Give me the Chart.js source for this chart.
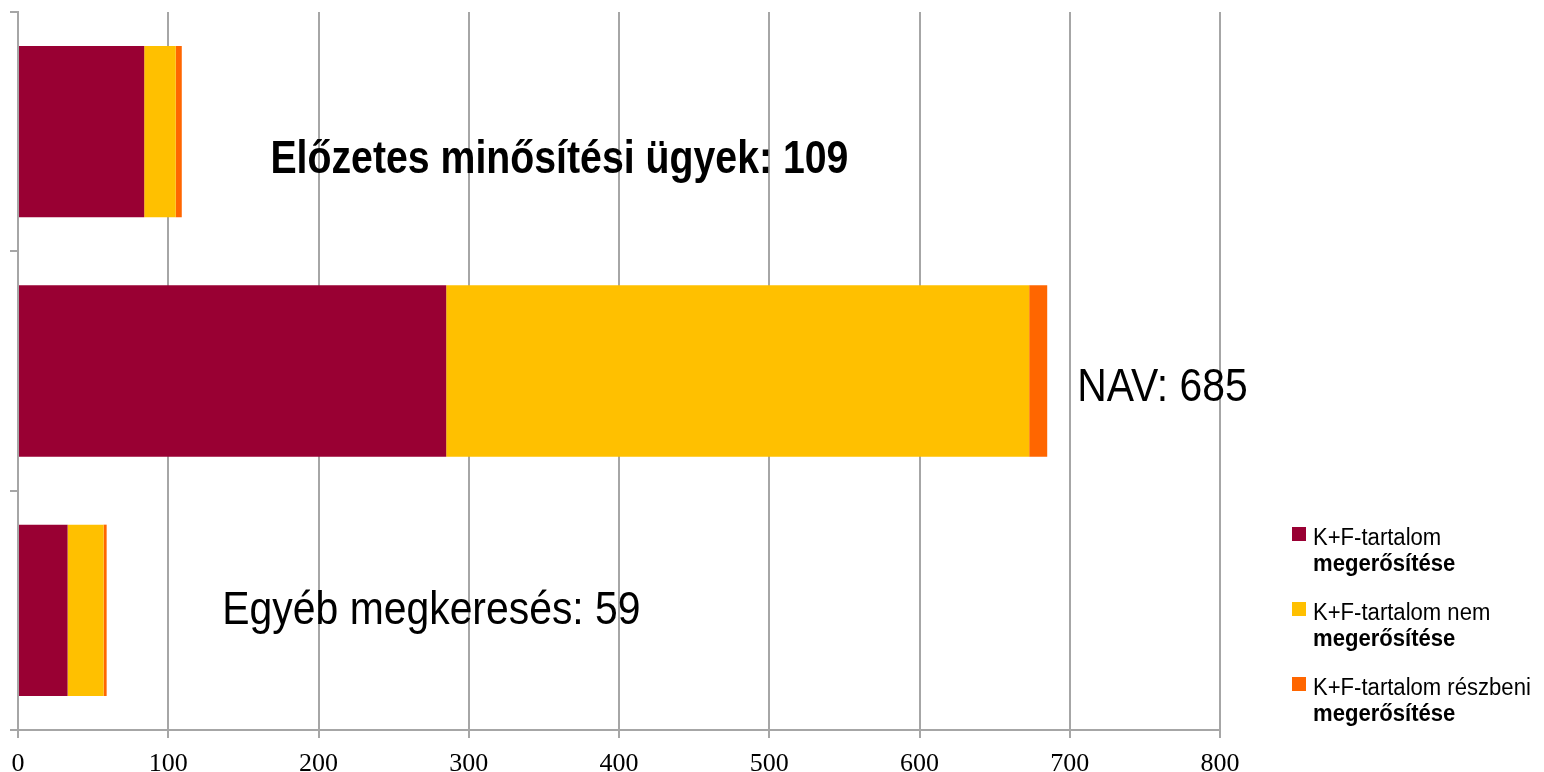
<!DOCTYPE html>
<html>
<head>
<meta charset="utf-8">
<script src="https://cdn.jsdelivr.net/npm/chart.js@4"></script>
<style>
  html, body { margin: 0; padding: 0; background: #fff; }
</style>
</head>
<body>
<canvas id="kfChart" width="1544" height="772"></canvas>
<script>
const categories = ["Előzetes minősítési ügyek", "NAV", "Egyéb megkeresés"];
const confirmed = [84, 285, 33];
const notConfirmed = [21, 388, 24];
const partlyConfirmed = [4, 12, 2];
const xTicks = [0, 100, 200, 300, 400, 500, 600, 700, 800];
const seriesNames = [
  ["K+F-tartalom", "megerősítése"],
  ["K+F-tartalom nem", "megerősítése"],
  ["K+F-tartalom részbeni", "megerősítése"]
];

const gridGray = "#a6a6a6";
const sans = '"Liberation Sans", Arial, sans-serif';

// totals shown next to bars
const totals = categories.map((c, i) => confirmed[i] + notConfirmed[i] + partlyConfirmed[i]);

// where the big labels sit: x in axis units, y offset from category centre
const notePlace = [
  { at: 168, dy: 41, bold: true, squeeze: 0.835 },
  { at: 705, dy: 30, bold: false, squeeze: 0.87 },
  { at: 136, dy: 14, bold: false, squeeze: 0.87 }
];

const notesPlugin = {
  id: "notes",
  afterDatasetsDraw(chart) {
    const ctx = chart.ctx;
    const xs = chart.scales.x, ys = chart.scales.y;
    categories.forEach((cat, i) => {
      const p = notePlace[i];
      ctx.save();
      ctx.fillStyle = "#000";
      ctx.font = (p.bold ? "bold " : "") + "47px " + sans;
      ctx.textBaseline = "alphabetic";
      ctx.translate(xs.getPixelForValue(p.at), ys.getPixelForValue(i) + p.dy);
      ctx.scale(p.squeeze, 1);
      ctx.fillText(cat + ": " + totals[i], 0, 0);
      ctx.restore();
    });
  }
};

const legendPlugin = {
  id: "sideLegend",
  afterDraw(chart) {
    const ctx = chart.ctx;
    chart.data.datasets.forEach((ds, i) => {
      const base = 545 + i * 75;
      ctx.save();
      ctx.fillStyle = ds.backgroundColor;
      ctx.fillRect(1292, base - 18, 14, 14);
      ctx.fillStyle = "#000";
      ctx.textBaseline = "alphabetic";
      ctx.translate(1313, base);
      ctx.scale(0.96, 1);
      ctx.font = "23px " + sans;
      ctx.fillText(seriesNames[i][0], 0, 0);
      ctx.font = "bold 23px " + sans;
      ctx.fillText(seriesNames[i][1], 0, 26);
      ctx.restore();
    });
  }
};

new Chart(document.getElementById("kfChart").getContext("2d"), {
  type: "bar",
  data: {
    labels: categories,
    datasets: [
      { label: seriesNames[0].join(" "), data: confirmed, backgroundColor: "#990033" },
      { label: seriesNames[1].join(" "), data: notConfirmed, backgroundColor: "#FFC000" },
      { label: seriesNames[2].join(" "), data: partlyConfirmed, backgroundColor: "#FF6600" }
    ]
  },
  options: {
    indexAxis: "y",
    responsive: false,
    animation: false,
    layout: { padding: { left: 10, right: 324, top: 12, bottom: 0 } },
    datasets: { bar: { barPercentage: 1, categoryPercentage: 0.716, borderWidth: 0 } },
    plugins: { legend: { display: false }, tooltip: { enabled: false } },
    scales: {
      x: {
        stacked: true,
        min: 0,
        max: 800,
        afterBuildTicks: s => { s.ticks = xTicks.map(v => ({ value: v })); },
        afterFit: s => { s.height = 42; s.paddingLeft = 0; s.paddingRight = 0; },
        grid: { color: gridGray, lineWidth: 2, tickLength: 8 },
        border: { color: gridGray, width: 2 },
        ticks: {
          color: "#000",
          padding: 13,
          font: { family: '"Liberation Serif", "Times New Roman", serif', size: 26, lineHeight: 1 }
        }
      },
      y: {
        stacked: true,
        afterFit: s => { s.width = 8; },
        ticks: { display: false },
        grid: { drawOnChartArea: false, color: gridGray, lineWidth: 2, tickLength: 8 },
        border: { color: gridGray, width: 2 }
      }
    }
  },
  plugins: [notesPlugin, legendPlugin]
});
</script>
</body>
</html>
